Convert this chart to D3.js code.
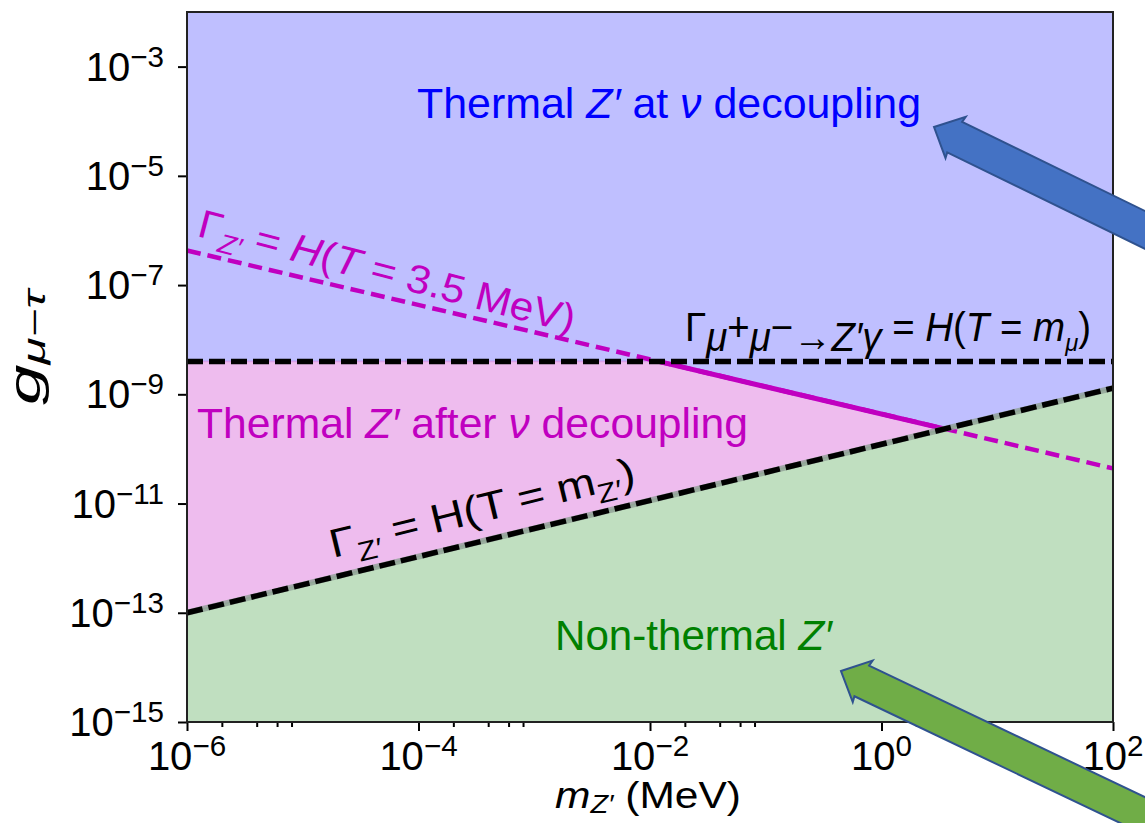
<!DOCTYPE html>
<html>
<head>
<meta charset="utf-8">
<script src="https://cdn.jsdelivr.net/npm/d3@7"></script>
<style>
  html, body { margin: 0; padding: 0; background: #fff; }
  svg { display: block; }
</style>
</head>
<body>
<svg id="chart" width="1145" height="823"></svg>
<script>
// Axis ranges (m_Z' in MeV, coupling g_{mu-tau})
const xDomain = [1e-6, 1e2];
const yDomain = [1e-15, 1e-2];

const xMajorTicks = [1e-6, 1e-4, 1e-2, 1e0, 1e2];
const xMajorExponents = ["−6", "−4", "−2", "0", "2"];
const xMinorTicks = [2e-6, 4e-6, 6e-6, 8e-6, 2e-4, 4e-4, 6e-4, 8e-4,
                     2e-2, 4e-2, 6e-2, 8e-2, 2, 4, 6, 8];
const yMajorTicks = [1e-15, 1e-13, 1e-11, 1e-9, 1e-7, 1e-5, 1e-3];
const yMajorExponents = ["−15", "−13", "−11", "−9", "−7", "−5", "−3"];

// Boundary curves, [m, g] pairs
const muonFreezeIn = [[1e-6, 4e-9], [1e2, 4e-9]];        // Γ(μμ→Z'γ) = H(T = m_μ)
const decayAt35MeV = [[1e-6, 4.3e-7], [1e2, 4.4e-11]];   // Γ_Z' = H(T = 3.5 MeV)
const decayAtMass  = [[1e-6, 1e-13], [1e2, 1.3e-9]];     // Γ_Z' = H(T = m_Z')

// Crossing points of the boundaries
const crossMuon  = [0.0118, 4e-9];
const crossDecay = [3.5, 2.33e-10];

// Region outlines
const regionAtDecoupling = [[1e-6, 4e-9], [1e-6, 1e-2], [1e2, 1e-2], [1e2, 1.3e-9], crossDecay, crossMuon];
const regionAfterDecoupling = [[1e-6, 1e-13], [1e-6, 4e-9], crossMuon, crossDecay];
const regionNonThermal = [[1e-6, 1e-15], [1e-6, 1e-13], [1e2, 1.3e-9], [1e2, 1e-15]];
const solidSegment = [crossMuon, crossDecay];

const FONT = "'Liberation Sans', Arial, Helvetica, sans-serif";
const svg = d3.select("#chart");

const x = d3.scaleLog().domain(xDomain).range([187, 1113]);
const y = d3.scaleLog().domain(yDomain).range([722, 12]);
const line = d3.line().x(d => x(d[0])).y(d => y(d[1]));

// Build a text element out of plain / italic / sub / sup parts.
// p.scale: size relative to base, p.off: baseline offset relative to base (positive = down)
function rich(sel, parts, base, width) {
  let shift = 0;
  parts.forEach(p => {
    let scale = 1, off = 0;
    if (p.sub) { scale = p.scale || 0.68; off = p.drop !== undefined ? p.drop : 0.25; }
    if (p.sup) { scale = p.scale || 0.68; off = -(p.rise || 0.4); }
    if (p.off !== undefined) off = p.off;
    const target = off * base;
    const ts = sel.append("tspan").text(p.t).attr("font-size", base * scale);
    if (target !== shift) { ts.attr("dy", target - shift); shift = target; }
    if (p.i) ts.attr("font-style", "italic");
  });
  if (width) sel.attr("textLength", width).attr("lengthAdjust", "spacingAndGlyphs");
  return sel;
}

// ---- filled regions ----
const regions = [
  { pts: regionAtDecoupling, fill: "#bfbfff", edge: "#9f8fff" },
  { pts: regionAfterDecoupling, fill: "#eebcee", edge: "#d8a0e8" },
  { pts: regionNonThermal, fill: "#c0dfc0", edge: "#9cc29c" }
];
svg.append("g").selectAll("path").data(regions).join("path")
  .attr("d", d => line(d.pts) + "Z")
  .attr("fill", d => d.fill)
  .attr("stroke", d => d.edge)
  .attr("stroke-width", 1.5);

// ---- boundary lines ----
const lines = svg.append("g").attr("fill", "none");
lines.append("path").attr("d", line(decayAt35MeV))
  .attr("stroke", "#c000c0").attr("stroke-width", 4.5)
  .attr("stroke-dasharray", "14,7");
lines.append("path").attr("d", line(solidSegment))
  .attr("stroke", "#c000c0").attr("stroke-width", 5);
lines.append("path").attr("d", line(decayAtMass))
  .attr("stroke", "#8f9f95").attr("stroke-width", 6).attr("opacity", 0.8);
lines.append("path").attr("d", line(decayAtMass))
  .attr("stroke", "#000").attr("stroke-width", 5.5)
  .attr("stroke-dasharray", "16,6");
lines.append("path").attr("d", line(muonFreezeIn))
  .attr("stroke", "#000").attr("stroke-width", 5.5)
  .attr("stroke-dasharray", "16,6");

// ---- axes ----
const axX = svg.append("g").attr("transform", "translate(0,722)")
  .call(d3.axisBottom(x).tickValues(xMajorTicks).tickFormat("").tickSizeOuter(0).tickSize(9));
const axXm = svg.append("g").attr("transform", "translate(0,722)")
  .call(d3.axisBottom(x).tickValues(xMinorTicks).tickFormat("").tickSizeOuter(0).tickSize(5));
const axY = svg.append("g").attr("transform", "translate(187,0)")
  .call(d3.axisLeft(y).tickValues(yMajorTicks).tickFormat("").tickSizeOuter(0).tickSize(9));
[axX, axXm, axY].forEach(a => {
  a.select(".domain").remove();
  a.selectAll(".tick line").attr("stroke", "#000").attr("stroke-width", 2);
});

// frame
svg.append("rect").attr("x", 187).attr("y", 12).attr("width", 926).attr("height", 710)
  .attr("fill", "none").attr("stroke", "#222").attr("stroke-width", 2);

// tick labels
svg.append("g").selectAll("text").data(xMajorTicks).join("text")
  .attr("x", d => x(d)).attr("y", 770)
  .attr("text-anchor", "middle").attr("font-family", FONT).attr("fill", "#000")
  .each(function (d, i) {
    rich(d3.select(this), [{ t: "10" }, { t: xMajorExponents[i], sup: true, scale: 0.74, rise: 0.36 }], 40);
  });
svg.append("g").selectAll("text").data(yMajorTicks).join("text")
  .attr("x", 164).attr("y", d => y(d) + 14)
  .attr("text-anchor", "end").attr("font-family", FONT).attr("fill", "#000")
  .each(function (d, i) {
    rich(d3.select(this), [{ t: "10" }, { t: yMajorExponents[i], sup: true, scale: 0.74, rise: 0.35 }], 40);
  });

// axis titles
rich(svg.append("text").attr("x", 555).attr("y", 808)
  .attr("font-family", FONT).attr("fill", "#000"),
  [{ t: "m", i: true }, { t: "Z′", i: true, sub: true, drop: 0.14 }, { t: " (MeV)" }], 37, 186);
rich(svg.append("text").attr("transform", "translate(40,405) rotate(-90)")
  .attr("font-family", FONT).attr("fill", "#000"),
  [{ t: "g", i: true }, { t: "μ−τ", i: true, sub: true, drop: 0.12 }], 45, 115);

// ---- region labels ----
rich(svg.append("text").attr("x", 417).attr("y", 118)
  .attr("font-family", FONT).attr("fill", "#0000ff"),
  [{ t: "Thermal " }, { t: "Z′", i: true }, { t: " at " }, { t: "ν", i: true }, { t: " decoupling" }], 42, 504);
rich(svg.append("text").attr("x", 197).attr("y", 438)
  .attr("font-family", FONT).attr("fill", "#c000c0"),
  [{ t: "Thermal " }, { t: "Z′", i: true }, { t: " after " }, { t: "ν", i: true }, { t: " decoupling" }], 42, 551);
rich(svg.append("text").attr("x", 555).attr("y", 650)
  .attr("font-family", FONT).attr("fill", "#008000"),
  [{ t: "Non-thermal " }, { t: "Z′", i: true }], 42, 277);

// ---- curve labels ----
rich(svg.append("text").attr("transform", "translate(196,236) rotate(14.5)")
  .attr("font-family", FONT).attr("fill", "#c000c0"),
  [{ t: "Γ" }, { t: "Z′", i: true, sub: true }, { t: " = " }, { t: "H", i: true }, { t: "(" },
   { t: "T", i: true }, { t: " = 3.5 MeV)" }], 40, 388);
rich(svg.append("text").attr("x", 685).attr("y", 341)
  .attr("font-family", FONT).attr("fill", "#000"),
  [{ t: "Γ" },
   { t: "μ", i: true, scale: 0.62, off: 0.25 }, { t: "+", scale: 0.34, off: 0.0 },
   { t: "μ", i: true, scale: 0.62, off: 0.25 }, { t: "−", scale: 0.34, off: 0.0 },
   { t: "→", scale: 0.62, off: 0.25 }, { t: "Z′γ", i: true, scale: 0.62, off: 0.25 },
   { t: " = " }, { t: "H", i: true }, { t: "(" }, { t: "T", i: true }, { t: " = " },
   { t: "m", i: true }, { t: "μ", i: true, sub: true, scale: 0.62 }, { t: ")" }], 40, 406);
rich(svg.append("text").attr("transform", "translate(333,558) rotate(-13.6)")
  .attr("font-family", FONT).attr("fill", "#000"),
  [{ t: "Γ" }, { t: "Z′", sub: true }, { t: " = H(T = m" }, { t: "Z′", sub: true }, { t: ")" }], 40, 313);

// ---- pointer arrows ----
function blockArrow(tip, angleDeg, len, fill) {
  const a = angleDeg * Math.PI / 180;
  const ux = Math.cos(a), uy = Math.sin(a), nx = -uy, ny = ux;
  const local = [[0, 0], [24, -23], [23, -17], [len, -17], [len, 17], [23, 17], [24, 23]];
  const pts = local.map(([s, t]) => [tip[0] + s * ux + t * nx, tip[1] + s * uy + t * ny]);
  svg.append("path").attr("d", "M" + pts.map(p => p.join(",")).join("L") + "Z")
    .attr("fill", fill).attr("stroke", "#2f528f").attr("stroke-width", 2)
    .attr("stroke-linejoin", "miter");
}
blockArrow([934, 127], 26, 420, "#4472c4");
blockArrow([841, 671], 25.5, 420, "#70ad47");
</script>
</body>
</html>
